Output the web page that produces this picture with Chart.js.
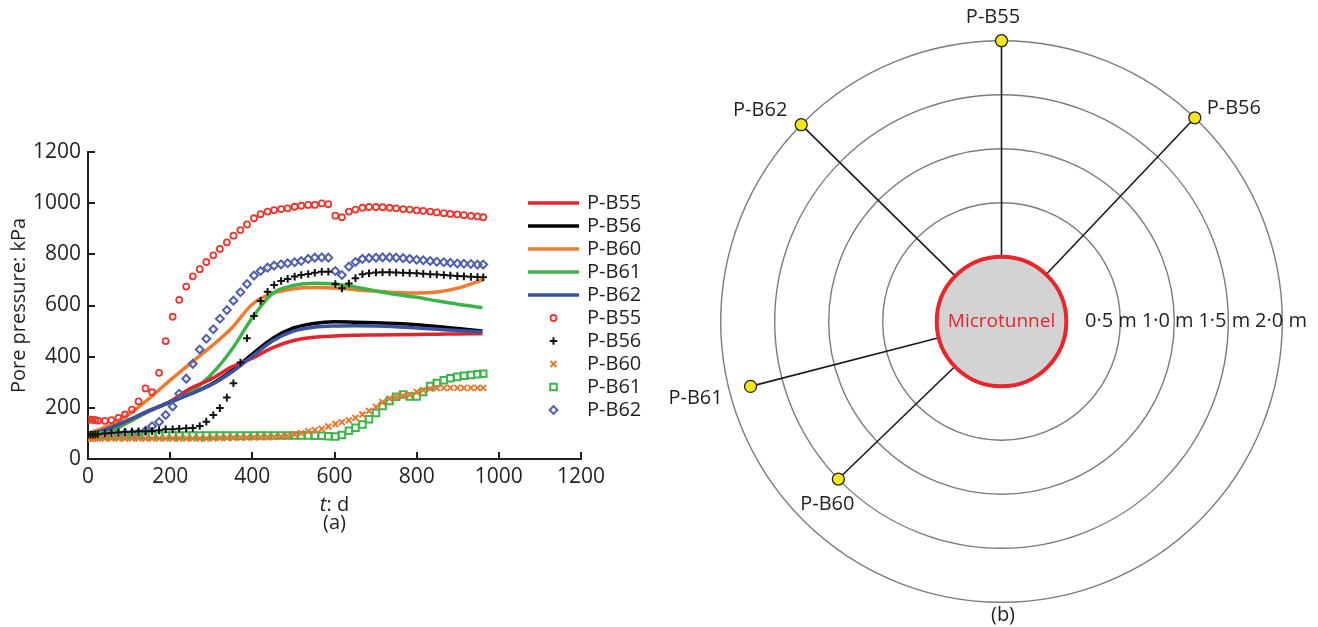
<!DOCTYPE html>
<html>
<head>
<meta charset="utf-8">
<script src="https://cdn.jsdelivr.net/npm/chart.js@4.4.1/dist/chart.umd.min.js"></script>
<style>
  html, body { margin: 0; padding: 0; background: #fff; }
  #wrap { position: relative; width: 1318px; height: 627px; overflow: hidden; }
  canvas { position: absolute; top: 0; }
  #pressureChart { left: 0; width: 650px; height: 627px; }
  #layoutChart { left: 650px; width: 668px; height: 627px; }
</style>
</head>
<body>
<div id="wrap">
  <canvas id="pressureChart" width="650" height="627"></canvas>
  <canvas id="layoutChart" width="668" height="627"></canvas>
</div>
<script>
// ---- (a) pore pressure, measured (markers) and computed (lines) ----
const seriesNames = ['P-B55', 'P-B56', 'P-B60', 'P-B61', 'P-B62'];

const measT = [0, 6, 12, 18, 24, 41, 57, 74, 90, 107, 123, 140, 156, 173, 189, 206, 222, 239, 255, 272,
  288, 305, 321, 338, 354, 371, 387, 404, 420, 437, 453, 470, 486, 503, 519, 536, 552, 569, 585, 602,
  618, 635, 651, 668, 684, 701, 717, 734, 750, 767, 783, 800, 816, 833, 849, 866, 882, 899, 915, 932, 948, 962];

const measB55 = [155, 154, 153, 152, 150, 149, 152, 161, 174, 193, 225, 276, 261, 337, 461, 556, 622, 674, 714, 742,
  770, 796, 821, 847, 873, 895, 917, 941, 957, 967, 973, 977, 980, 986, 990, 993, 993, 999, 996, 951,
  945, 967, 975, 982, 985, 985, 984, 982, 980, 977, 975, 972, 970, 967, 964, 961, 958, 956, 953, 950, 948, 945];
const measB56 = [95, 95, 95, 96, 97, 100, 102, 104, 106, 107, 108, 108, 109, 112, 116, 116, 118, 120, 121, 129,
  146, 172, 199, 240, 296, 377, 472, 559, 618, 654, 680, 696, 704, 713, 719, 723, 728, 732, 732, 684,
  667, 686, 707, 722, 726, 729, 730, 730, 729, 728, 727, 726, 724, 722, 721, 719, 717, 715, 714, 712, 711, 710];
const measB60 = [80, 80, 80, 80, 80, 80, 80, 80, 80, 80, 80, 80, 80, 80, 80, 80, 80, 80, 80, 80,
  80, 81, 82, 82, 83, 83, 84, 84, 85, 85, 86, 87, 90, 96, 101, 108, 113, 118, 127, 137,
  144, 151, 161, 174, 188, 204, 222, 236, 243, 247, 251, 262, 269, 275, 277, 278, 278, 278, 278, 278, 278, 278];
const measB61 = [92, 92, 92, 92, 92, 92, 92, 92, 92, 92, 92, 92, 92, 92, 92, 92, 92, 92, 92, 92,
  92, 92, 92, 92, 92, 92, 92, 92, 92, 92, 92, 92, 92, 92, 92, 92, 91, 91, 89, 88,
  94, 110, 122, 135, 155, 180, 207, 227, 243, 252, 244, 244, 262, 285, 297, 308, 316, 321, 325, 328, 331, 333];
const measB62 = [91, 91, 91, 92, 93, 95, 96, 98, 100, 100, 101, 111, 128, 145, 172, 205, 255, 314, 372, 428,
  470, 507, 548, 582, 619, 652, 684, 717, 735, 748, 756, 761, 765, 769, 774, 782, 787, 788, 787, 735,
  719, 752, 770, 782, 785, 787, 788, 788, 787, 785, 782, 779, 777, 774, 771, 769, 767, 764, 763, 762, 760, 760];

const modelT = [0, 50, 100, 150, 200, 250, 300, 350, 400, 450, 500, 550, 600, 650, 700, 750, 800, 850, 900, 960];
const modelB55 = [92, 118, 152, 190, 225, 276, 313, 360, 394, 435, 463, 476, 481, 484, 485, 486, 487, 488, 489, 490];
const modelB56 = [92, 118, 152, 188, 222, 255, 292, 345, 410, 472, 512, 530, 536, 535, 533, 530, 525, 518, 510, 500];
const modelB60 = [100, 130, 175, 238, 308, 375, 440, 512, 605, 648, 665, 670, 668, 662, 656, 651, 649, 653, 668, 700];
const modelB61 = [92, 105, 145, 188, 224, 262, 330, 428, 552, 648, 678, 687, 684, 672, 657, 643, 632, 618, 605, 592];
const modelB62 = [92, 120, 153, 190, 222, 255, 290, 340, 402, 462, 500, 515, 520, 521, 520, 517, 512, 507, 502, 497];

const axisMax = 1200;
const axisStep = 200;

// ---- (b) instrument layout round the microtunnel (metres, degrees from east) ----
const tunnelR = 0.6;
const ringDist = [0.5, 1.0, 1.5, 2.0];
const sensorR = [2.6, 2.6, 2.1, 2.4, 2.6];
const sensorAngle = [90, 46.5, 224, 194.5, 135.5];

// ---- styles / layout ----
const FONT = "'Open Sans', 'Noto Sans', sans-serif";
const INK = '#231f20';
const lineColors = ['#e3242b', '#000000', '#ee7b30', '#3cb44a', '#3953a4'];
const lineOrder = [2, 5, 4, 3, 1];
const markerColors = ['#e8392f', '#111111', '#e8772e', '#3cb54a', '#4f5fae'];
const markerShapes = ['circle', 'cross', 'crossRot', 'rect', 'rectRot'];
const markerSizes = [3, 3.8, 4.2, 4.6, 3.9];
const markerWidths = [1.8, 2, 2, 2, 2];

const toPts = (ts, vs) => ts.map((t, i) => ({ x: t, y: vs[i] }));

const modelSets = [modelB55, modelB56, modelB60, modelB61, modelB62].map((vals, i) => ({
  label: seriesNames[i],
  data: toPts(modelT, vals),
  showLine: true,
  borderColor: lineColors[i],
  borderWidth: 3.5,
  pointRadius: 0,
  cubicInterpolationMode: 'monotone',
  order: lineOrder[i]
}));

const measSets = [measB55, measB56, measB60, measB61, measB62].map((vals, i) => ({
  label: seriesNames[i],
  data: toPts(measT, vals),
  showLine: false,
  pointStyle: markerShapes[i],
  pointRadius: markerSizes[i],
  pointBorderWidth: markerWidths[i],
  pointBorderColor: markerColors[i],
  pointBackgroundColor: 'rgba(0,0,0,0)',
  order: 0
}));

// chart area of (a): left 88, right 581, top 152, bottom 459
const A_W = 650, A_H = 627;
const A_LEFT = 88, A_RIGHT = 581, A_TOP = 152, A_BOTTOM = 459;

const pressureDecor = {
  id: 'pressureDecor',
  afterDraw(chart) {
    const { ctx, chartArea: a, scales: { x, y } } = chart;
    ctx.save();
    // inward tick marks
    ctx.strokeStyle = INK;
    ctx.lineWidth = 2;
    x.ticks.forEach(t => {
      const px = Math.round(x.getPixelForValue(t.value));
      ctx.beginPath(); ctx.moveTo(px, a.bottom); ctx.lineTo(px, a.bottom - 7); ctx.stroke();
    });
    y.ticks.forEach(t => {
      const py = Math.round(y.getPixelForValue(t.value));
      ctx.beginPath(); ctx.moveTo(a.left, py); ctx.lineTo(a.left + 7, py); ctx.stroke();
    });

    // x title with italic t, and panel tag
    ctx.fillStyle = INK;
    ctx.textBaseline = 'alphabetic';
    const cx = (a.left + a.right) / 2;
    ctx.font = `italic 20px ${FONT}`;
    const wT = ctx.measureText('t').width;
    ctx.font = `20px ${FONT}`;
    const wRest = ctx.measureText(': d').width;
    const sx = cx - (wT + wRest) / 2;
    ctx.font = `italic 20px ${FONT}`;
    ctx.textAlign = 'left';
    ctx.fillText('t', sx, 511);
    ctx.font = `20px ${FONT}`;
    ctx.fillText(': d', sx + wT, 511);
    ctx.textAlign = 'center';
    ctx.textBaseline = 'middle';
    ctx.fillText('(a)', cx, 523);

    // legend
    const helpers = Chart.helpers;
    chart.data.datasets.forEach((ds, i) => {
      const yy = 203 + 23 * i;
      if (ds.showLine) {
        ctx.strokeStyle = ds.borderColor;
        ctx.lineWidth = ds.borderWidth;
        ctx.beginPath(); ctx.moveTo(528, yy); ctx.lineTo(579, yy); ctx.stroke();
      } else {
        ctx.strokeStyle = ds.pointBorderColor;
        ctx.fillStyle = 'rgba(0,0,0,0)';
        ctx.lineWidth = ds.pointBorderWidth;
        const opts = { pointStyle: ds.pointStyle, radius: ds.pointRadius, borderWidth: ds.pointBorderWidth, rotation: 0 };
        if (helpers && helpers.drawPoint) {
          helpers.drawPoint(ctx, opts, 553.5, yy);
        } else {
          ctx.beginPath(); ctx.arc(553.5, yy, ds.pointRadius, 0, Math.PI * 2); ctx.stroke();
        }
      }
      ctx.fillStyle = INK;
      ctx.font = `20px ${FONT}`;
      ctx.textAlign = 'left';
      ctx.textBaseline = 'middle';
      ctx.fillText(ds.label, 587, yy);
    });
    ctx.restore();
  }
};

const tickFont = { family: FONT, size: 21 };
const plainTick = v => String(v);

new Chart(document.getElementById('pressureChart'), {
  type: 'scatter',
  data: { datasets: [...modelSets, ...measSets] },
  options: {
    responsive: false,
    animation: false,
    devicePixelRatio: 1,
    events: [],
    layout: { autoPadding: false, padding: { top: A_TOP, right: A_W - A_RIGHT, bottom: 0, left: 0 } },
    plugins: { legend: { display: false }, tooltip: { enabled: false } },
    scales: {
      x: {
        type: 'linear', min: 0, max: axisMax,
        ticks: { stepSize: axisStep, padding: 5, color: INK, font: tickFont, maxRotation: 0, callback: plainTick },
        grid: { drawOnChartArea: false, drawTicks: false },
        border: { color: INK, width: 2 },
        afterFit: s => { s.height = A_H - A_BOTTOM; }
      },
      y: {
        type: 'linear', min: 0, max: axisMax,
        ticks: { stepSize: axisStep, padding: 7, color: INK, font: tickFont, callback: plainTick },
        grid: { drawOnChartArea: false, drawTicks: false },
        border: { color: INK, width: 2 },
        title: { display: true, text: 'Pore pressure: kPa', color: INK, font: { family: FONT, size: 20 }, padding: { top: 7, bottom: 0 } },
        afterFit: s => { s.width = A_LEFT; }
      }
    }
  },
  plugins: [pressureDecor]
});

// ---- (b) ----
const B_W = 668, B_H = 627;
const B_CX = 351.5, B_CY = 321.5;   // tunnel centre on this canvas
const PX_PER_M = 108;
const sensorLabelOffsets = [[-8.5, -23.5], [39, -10], [-11, 25], [-55, 12], [-41, -14]];

const rad = d => d * Math.PI / 180;
const toXY = (r, deg) => ({ x: r * Math.cos(rad(deg)), y: r * Math.sin(rad(deg)) });
const mToPx = (chart, m) => chart.scales.x.getPixelForValue(m) - chart.scales.x.getPixelForValue(0);

const sensorSet = {
  label: 'sensors',
  data: sensorR.map((r, i) => toXY(r, sensorAngle[i])),
  pointRadius: 6,
  pointBackgroundColor: '#f3e619',
  pointBorderColor: '#222',
  pointBorderWidth: 1.3,
  order: 0
};
const tunnelSet = {
  label: 'tunnel',
  data: [{ x: 0, y: 0 }],
  pointRadius: c => mToPx(c.chart, tunnelR),
  pointBackgroundColor: '#d3d3d3',
  pointBorderColor: '#e8262b',
  pointBorderWidth: 4,
  order: 1
};
const leadSets = sensorR.map((r, i) => ({
  label: 'lead ' + seriesNames[i],
  data: [toXY(tunnelR, sensorAngle[i]), toXY(r, sensorAngle[i])],
  showLine: true,
  borderColor: '#1a1a1a',
  borderWidth: 1.6,
  pointRadius: 0,
  order: 2
}));
const ringSet = {
  label: 'rings',
  data: ringDist.map(() => ({ x: 0, y: 0 })),
  pointRadius: c => mToPx(c.chart, tunnelR + ringDist[c.dataIndex]),
  pointBackgroundColor: 'rgba(0,0,0,0)',
  pointBorderColor: '#7b7b7b',
  pointBorderWidth: 1.4,
  order: 3
};

const layoutText = {
  id: 'layoutText',
  afterDatasetsDraw(chart) {
    const { ctx, scales: { x, y } } = chart;
    const cx = x.getPixelForValue(0), cy = y.getPixelForValue(0);
    ctx.save();
    ctx.textAlign = 'center';
    ctx.textBaseline = 'middle';
    ctx.fillStyle = INK;
    ctx.font = `20px ${FONT}`;
    sensorSet.data.forEach((p, i) => {
      const [dx, dy] = sensorLabelOffsets[i];
      ctx.fillText(seriesNames[i], x.getPixelForValue(p.x) + dx, y.getPixelForValue(p.y) + dy);
    });
    ctx.textAlign = 'left';
    ringDist.forEach((d, i) => {
      ctx.fillText(d.toFixed(1).replace('.', '\u00b7') + ' m', cx + 83.5 + 56.7 * i, cy);
    });
    ctx.textAlign = 'center';
    ctx.fillText('(b)', cx + 1.5, 615);
    ctx.fillStyle = '#e8262b';
    ctx.font = `19px ${FONT}`;
    ctx.fillText('Microtunnel', cx, cy);
    ctx.restore();
  }
};

new Chart(document.getElementById('layoutChart'), {
  type: 'scatter',
  data: { datasets: [sensorSet, tunnelSet, ...leadSets, ringSet] },
  options: {
    responsive: false,
    animation: false,
    devicePixelRatio: 1,
    events: [],
    layout: { autoPadding: false, padding: 0 },
    plugins: { legend: { display: false }, tooltip: { enabled: false } },
    scales: {
      x: { type: 'linear', display: false, min: -B_CX / PX_PER_M, max: (B_W - B_CX) / PX_PER_M },
      y: { type: 'linear', display: false, min: -(B_H - B_CY) / PX_PER_M, max: B_CY / PX_PER_M }
    }
  },
  plugins: [layoutText]
});
</script>
</body>
</html>
